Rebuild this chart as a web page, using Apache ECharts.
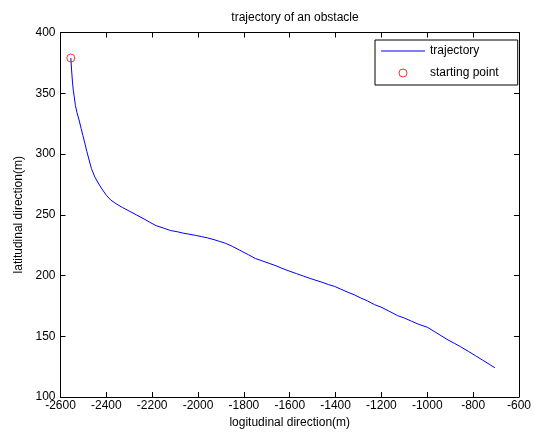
<!DOCTYPE html>
<html>
<head>
<meta charset="utf-8">
<script src="https://cdn.jsdelivr.net/npm/echarts@6/dist/echarts.min.js"></script>
<style>html,body{margin:0;padding:0;background:#fff}#c{width:534px;height:436px}</style>
</head>
<body>
<div id="c"></div>
<script>
var titleText = 'trajectory of an obstacle';
var xName = 'logitudinal direction(m)';
var yName = 'latitudinal direction(m)';
var seriesNames = ['trajectory', 'starting point'];
var xTicks = {min: -2600, max: -600, interval: 200};
var yTicks = {min: 100, max: 400, interval: 50};
var trajX = [-2555,-2552,-2548,-2544,-2540,-2535,-2528,-2519,-2510,-2502,-2494,-2485,-2475,-2465,-2450,-2438,-2422,-2400,-2380,-2357,-2330,-2300,-2270,-2240,-2212,-2183,-2150,-2120,-2090,-2068,-2040,-2010,-1985,-1960,-1930,-1905,-1880,-1850,-1820,-1800,-1779,-1750,-1720,-1690,-1660,-1635,-1600,-1570,-1540,-1510,-1490,-1460,-1430,-1404,-1380,-1350,-1317,-1290,-1260,-1230,-1202,-1170,-1130,-1100,-1070,-1040,-1000,-970,-940,-910,-880,-856,-820,-790,-760,-730,-705];
var trajY = [379,370,360,352,347,340,334,328,321,315,309,302,295,288,281,277,272,266,262,259,256,253,250,247,244,241,239,237,236,235,234,233,232,231,229.5,228,226.5,224,221,219,217,214,212,210,208,206,203.5,201.5,199.5,197.5,196.3,194.5,192.5,191,189,186.5,184,181.5,179,176,174,171,167,165,162.5,160,157.4,154,150.5,147,144,141.5,137.5,134,130.5,127,124];
var startX = [-2555];
var startY = [379];

var trajData = trajX.map(function(x, i){ return [x, trajY[i]]; });
var startData = startX.map(function(x, i){ return [x, startY[i]]; });

var font = 'Liberation Sans, Arial, sans-serif';
var chart = echarts.init(document.getElementById('c'), null, {renderer: 'canvas'});
function plain(v){ return String(v); }
function axisBase(extra, ticks){
  var o = {
    type: 'value', min: ticks.min, max: ticks.max, interval: ticks.interval,
    splitLine: {show: false},
    axisLine: {show: true, onZero: false, lineStyle: {color: '#000', width: 1}},
    axisTick: {show: true, inside: true, length: 5, lineStyle: {color: '#000'}},
    axisLabel: {color: '#000', fontFamily: font, fontSize: 12, formatter: plain}
  };
  for (var k in extra) o[k] = extra[k];
  return o;
}
chart.setOption({
  animation: false,
  backgroundColor: '#fff',
  title: {text: titleText, left: 290, textAlign: 'center', top: 7,
    textStyle: {fontFamily: font, fontSize: 12, fontWeight: 'normal', color: '#000'}},
  grid: {left: 60.5, right: 11.5, top: 32.5, bottom: 39, containLabel: false},
  legend: {
    orient: 'vertical', left: 375, top: 40,
    data: [
      {name: seriesNames[0], icon: 'path://M0,0h44v1.2h-44z', itemStyle: {color: '#0000ff'}},
      {name: seriesNames[1], icon: 'circle', itemStyle: {color: 'transparent', borderColor: '#ff0000', borderWidth: 1}}
    ],
    itemWidth: 44, itemHeight: 8, itemGap: 10,
    padding: [5, 19, 6, 6],
    borderColor: '#000', borderWidth: 1, backgroundColor: '#fff',
    textStyle: {fontFamily: font, fontSize: 12, color: '#000'}
  },
  xAxis: [
    axisBase({position: 'bottom', name: xName, nameLocation: 'middle', nameGap: 20,
      nameTextStyle: {fontFamily: font, fontSize: 12, color: '#000'},
      axisLabel: {color: '#000', fontFamily: font, fontSize: 12, margin: 3, formatter: plain}}, xTicks),
    axisBase({position: 'top', axisLabel: {show: false}}, xTicks)
  ],
  yAxis: [
    axisBase({position: 'left', name: yName, nameLocation: 'middle', nameGap: 36,
      nameTextStyle: {fontFamily: font, fontSize: 12, color: '#000'},
      axisLabel: {color: '#000', fontFamily: font, fontSize: 12, margin: 5, formatter: plain}}, yTicks),
    axisBase({position: 'right', axisLabel: {show: false}}, yTicks)
  ],
  series: [
    {name: seriesNames[0], type: 'line', data: trajData, showSymbol: false, symbol: 'none',
      lineStyle: {color: '#0000ff', width: 1}, itemStyle: {color: '#0000ff'}, z: 2},
    {name: seriesNames[1], type: 'scatter', data: startData, symbol: 'circle', symbolSize: 8,
      itemStyle: {color: 'transparent', borderColor: '#ff0000', borderWidth: 1}, z: 3}
  ]
});
</script>
</body>
</html>
